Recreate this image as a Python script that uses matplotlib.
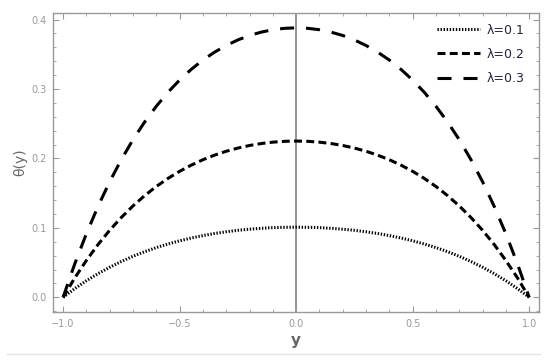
import matplotlib
matplotlib.use('Agg')
import matplotlib.pyplot as plt
from matplotlib.lines import Line2D
from matplotlib.ticker import MultipleLocator

# Profiles (y from -1 to 1, step 0.05)
y_vals = [-1.0, -0.95, -0.9, -0.85, -0.8, -0.75, -0.7, -0.65, -0.6, -0.55, -0.5,
          -0.45, -0.4, -0.35, -0.3, -0.25, -0.2, -0.15, -0.1, -0.05, 0.0,
          0.05, 0.1, 0.15, 0.2, 0.25, 0.3, 0.35, 0.4, 0.45, 0.5,
          0.55, 0.6, 0.65, 0.7, 0.75, 0.8, 0.85, 0.9, 0.95, 1.0]

theta_01 = [0.0, 0.0125, 0.0239, 0.0341, 0.0433, 0.0516, 0.0591, 0.0657, 0.0716, 0.0768, 0.0814,
            0.0854, 0.0889, 0.0919, 0.0944, 0.0965, 0.0981, 0.0994, 0.1003, 0.1008, 0.1010,
            0.1008, 0.1003, 0.0994, 0.0981, 0.0965, 0.0944, 0.0919, 0.0889, 0.0854, 0.0814,
            0.0768, 0.0716, 0.0657, 0.0591, 0.0516, 0.0433, 0.0341, 0.0239, 0.0125, 0.0]

theta_02 = [0.0, 0.0279, 0.0531, 0.0760, 0.0966, 0.1150, 0.1316, 0.1464, 0.1596, 0.1712, 0.1814,
            0.1903, 0.1981, 0.2047, 0.2103, 0.2149, 0.2186, 0.2214, 0.2234, 0.2246, 0.2250,
            0.2246, 0.2234, 0.2214, 0.2186, 0.2149, 0.2103, 0.2047, 0.1981, 0.1903, 0.1814,
            0.1712, 0.1596, 0.1464, 0.1316, 0.1150, 0.0966, 0.0760, 0.0531, 0.0279, 0.0]

theta_03 = [0.0, 0.0481, 0.0916, 0.1310, 0.1665, 0.1984, 0.2270, 0.2525, 0.2751, 0.2952, 0.3128,
            0.3282, 0.3416, 0.3530, 0.3626, 0.3706, 0.3770, 0.3818, 0.3853, 0.3873, 0.3880,
            0.3873, 0.3853, 0.3818, 0.3770, 0.3706, 0.3626, 0.3530, 0.3416, 0.3282, 0.3128,
            0.2952, 0.2751, 0.2525, 0.2270, 0.1984, 0.1665, 0.1310, 0.0916, 0.0481, 0.0]

labels = ['\u03bb=0.1', '\u03bb=0.2', '\u03bb=0.3']

fig = plt.figure(figsize=(5.5, 3.64), dpi=100)
ax = fig.add_axes([53.3 / 550, 1 - 311.7 / 364, (538.7 - 53.3) / 550, (311.7 - 12.7) / 364])

ax.plot(y_vals, theta_01, color='black', lw=2.2, linestyle=(0, (0.45, 0.55)), label=labels[0])
ax.plot(y_vals, theta_02, color='black', lw=2.2, linestyle=(0, (2.6, 1.4)), label=labels[1])
ax.plot(y_vals, theta_03, color='black', lw=2.2, linestyle=(0, (4.6, 3.9)), label=labels[2])

ax.axvline(0, color='#777777', lw=1.1, zorder=0)

ax.set_xlim(-1.042, 1.041)
ax.set_ylim(-0.0207, 0.4098)

ax.xaxis.set_major_locator(MultipleLocator(0.5))
ax.xaxis.set_minor_locator(MultipleLocator(0.1))
ax.yaxis.set_major_locator(MultipleLocator(0.1))
ax.yaxis.set_minor_locator(MultipleLocator(0.02))
ax.xaxis.set_major_formatter(plt.FuncFormatter(lambda v, _: f'{v:.1f}'.replace('-', '\u2212')))
ax.yaxis.set_major_formatter(plt.FuncFormatter(lambda v, _: f'{v:.1f}'))

ax.tick_params(which='both', direction='in', top=True, right=True,
               color='#999999', labelcolor='#999999', labelsize=7, pad=5)
ax.tick_params(which='major', length=4, width=0.8)
ax.tick_params(which='minor', length=2.5, width=0.6)
for sp in ax.spines.values():
    sp.set_color('#999999')
    sp.set_linewidth(1.0)

ax.set_xlabel('y', fontsize=11, color='#666666', fontweight='bold', labelpad=3)
ax.set_ylabel('\u03b8(y)', fontsize=10, color='#666666', labelpad=3)

leg = ax.legend(loc='upper right', bbox_to_anchor=(527 / 550, 1 - 21 / 364),
                bbox_transform=fig.transFigure, frameon=False, fontsize=9,
                handlelength=3.4, handletextpad=0.55, labelspacing=0.9,
                borderpad=0.2, borderaxespad=0)
for t in leg.get_texts():
    t.set_color('#222244')

# faint separator line below the chart
fig.add_artist(Line2D([7 / 550, 540 / 550], [1 - 354 / 364, 1 - 354 / 364],
                      transform=fig.transFigure, color='#e4e4e4', lw=1))

fig.savefig('out.png', dpi=100)
